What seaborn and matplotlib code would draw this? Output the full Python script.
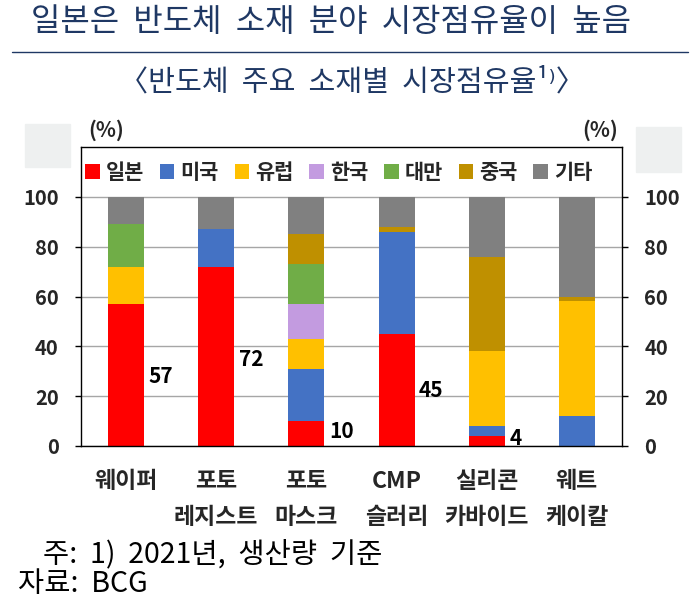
import numpy as np
import pandas as pd
import matplotlib
matplotlib.use('Agg')
import matplotlib.pyplot as plt
from matplotlib.patches import Patch, Rectangle
from matplotlib.lines import Line2D
import seaborn as sns

categories = ['웨이퍼', '포토\n레지스트', '포토\n마스크', 'CMP\n슬러리', '실리콘\n카바이드', '웨트\n케이칼']
series_names = ['일본', '미국', '유럽', '한국', '대만', '중국', '기타']
japan = [57, 72, 10, 45, 4, 0]
usa = [0, 15, 21, 41, 4, 12]
europe = [15, 0, 12, 0, 30, 46]
korea = [0, 0, 14, 0, 0, 0]
taiwan = [17, 0, 16, 0, 0, 0]
china = [0, 0, 12, 2, 38, 2]
other = [11, 13, 15, 12, 24, 40]
colors = ['#FF0000', '#4472C4', '#FFC000', '#C39BE0', '#70AD47', '#BF9000', '#808080']
yticks = [0, 20, 40, 60, 80, 100]

series = [japan, usa, europe, korea, taiwan, china, other]

sns.set_theme(style='white')
plt.rcParams['font.family'] = ['Noto Sans CJK KR', 'DejaVu Sans']

W, H = 699, 616
fig = plt.figure(figsize=(W / 100, H / 100), dpi=100)
ax = fig.add_axes([81 / W, (H - 446) / H, (622 - 81) / W, (446 - 147) / H])

bottom = np.zeros(len(categories))
for name, vals, col in zip(series_names, series, colors):
    df = pd.DataFrame({'category': categories, 'value': vals})
    sns.barplot(data=df, x='category', y='value', order=categories, color=col,
                width=0.4, bottom=bottom.copy(), linewidth=0, ax=ax, errorbar=None,
                saturation=1)
    bottom += np.array(vals, dtype=float)

ax.set_ylim(0, 120)
ax.set_yticks(yticks)
ax.set_yticklabels([str(t) for t in yticks], fontweight='bold', fontsize=14.5)
ax.set_xlabel('')
ax.set_ylabel('')
ax.yaxis.grid(True, color='#A6A6A6', linewidth=1)
ax.set_axisbelow(True)
for s in ax.spines.values():
    s.set_visible(True)
    s.set_color('#000000')
    s.set_linewidth(1)
ax.tick_params(axis='y', which='both', left=True, right=True, labelleft=True,
               labelright=True, length=4, width=1, color='#000000', pad=12,
               direction='out')
ax.tick_params(axis='x', length=0, pad=17)
for lab in ax.get_xticklabels():
    lab.set_fontweight('bold')
    lab.set_fontsize(16.5)
    lab.set_linespacing(1.72)

# Japan value labels
for i, v in enumerate(japan):
    if v > 0:
        ax.text(i + 0.25, 0.47 * v + 1, str(v), ha='left', va='center',
                fontweight='bold', fontsize=15, color='black')

handles = [Patch(facecolor=c, edgecolor='none') for c in colors]
leg = ax.legend(handles, series_names, ncol=7, loc='center left',
                bbox_to_anchor=(0.0, 0.916), frameon=False, borderaxespad=0,
                borderpad=0.2, handlelength=0.7, handleheight=0.7,
                handletextpad=0.3, columnspacing=0.75,
                prop={'weight': 'bold', 'size': 15})

# Unit labels
fig.text(88 / W, 1 - 130 / H, '(%)', ha='left', va='center', fontweight='bold', fontsize=15)
fig.text(618 / W, 1 - 130 / H, '(%)', ha='right', va='center', fontweight='bold', fontsize=15)

# light grey boxes
fig.patches.append(Rectangle((25 / W, 1 - 167 / H), 45 / W, 43 / H,
                             transform=fig.transFigure, color='#EEF0F0', zorder=0))
fig.patches.append(Rectangle((636 / W, 1 - 172 / H), 45 / W, 45 / H,
                             transform=fig.transFigure, color='#EEF0F0', zorder=0))

# Title, rule and subtitle
navy = '#1F3864'
fig.text(31 / W, 1 - 22 / H, '일본은  반도체  소재  분야  시장점유율이  높음', ha='left', va='center',
         fontsize=23, color=navy)
fig.add_artist(Line2D([12 / W, 688 / W], [1 - 52 / H, 1 - 52 / H], color=navy, lw=1))
fig.text(352 / W, 1 - 82 / H, '〈반도체  주요  소재별  시장점유율¹⁾〉', ha='center', va='center',
         fontsize=21, color=navy)

# Footnotes
fig.text(43 / W, 1 - 554 / H, '주:  1)  2021년,  생산량  기준', ha='left', va='center', fontsize=20.5, color='black')
fig.text(18 / W, 1 - 584 / H, '자료:  BCG', ha='left', va='center', fontsize=20.5, color='black')

fig.savefig('out.png', dpi=100)
